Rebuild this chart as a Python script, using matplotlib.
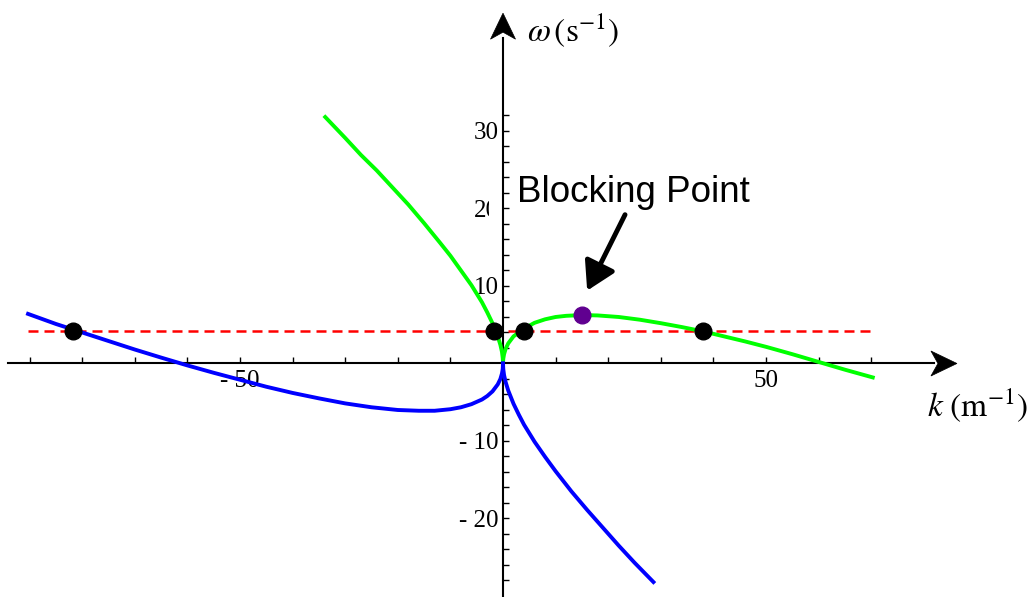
import matplotlib
matplotlib.use("Agg")
import matplotlib.pyplot as plt
from matplotlib.ticker import FixedLocator, FuncFormatter
from matplotlib.patches import Rectangle, Polygon

plt.rcParams['font.family'] = ['Liberation Serif', 'DejaVu Serif']
plt.rcParams['mathtext.fontset'] = 'stix'

# ---------------------------------------------------------------------
# Dispersion branches  omega(k)
# ---------------------------------------------------------------------
green_left_k = [-33.8, -30, -27, -24, -21, -18, -15, -12, -10, -8, -6, -5,
                -4, -3, -2, -1.5, -1, -0.5, -0.2, -0.05, 0]
green_left_w = [31.8, 29.1, 26.9, 24.9, 22.7, 20.5, 18.1, 15.6, 13.9, 12.0,
                10.1, 9.0, 7.9, 6.6, 5.2, 4.4, 3.5, 2.4, 1.5, 0.7, 0]

green_right_k = [0, 0.05, 0.2, 0.5, 1, 2, 3, 4, 6, 8, 10, 12, 15, 18, 22,
                 26, 30, 34, 38, 42, 46, 50, 55, 60, 65, 70.3]
green_right_w = [0, 0.6, 1.2, 1.9, 2.6, 3.5, 4.0, 4.5, 5.25, 5.7, 6.0, 6.15,
                 6.25, 6.2, 6.0, 5.65, 5.2, 4.7, 4.15, 3.5, 2.85, 2.15, 1.2,
                 0.2, -0.8, -1.8]

blue_left_k = [-90.3, -85, -80, -75, -70, -65, -60, -55, -50, -45, -40, -35,
               -30, -25, -20, -16, -13, -10, -8, -6, -4, -3, -2, -1, -0.5,
               -0.2, -0.05, 0]
blue_left_w = [6.4, 5.1, 4.0, 2.9, 1.8, 0.76, -0.25, -1.2, -2.1, -3.0, -3.8,
               -4.5, -5.15, -5.65, -6.0, -6.1, -6.1, -5.9, -5.65, -5.25,
               -4.65, -4.2, -3.6, -2.7, -2.0, -1.3, -0.7, 0]

blue_right_k = [0, 0.05, 0.2, 0.5, 1, 2, 3, 4, 6, 8, 10, 13, 16, 19, 22, 25,
                28.6]
blue_right_w = [0, -0.72, -1.5, -2.4, -3.5, -5.2, -6.6, -7.9, -10.1, -12.05,
                -13.9, -16.5, -18.9, -21.2, -23.5, -25.7, -28.2]

# wave frequency level and its intersections
omega0 = 4.2
omega0_k = [-90.3, 70.3]
cross_k = [-81.7, -1.7, 3.9, 38.0]
block_k, block_w = 15.1, 6.25

x_major = [-50, 50]
x_minor = [-90, -80, -70, -60, -40, -30, -20, -10, 10, 20, 30, 40, 60, 70]
y_major = [-20, -10, 10, 20, 30]
y_minor = [v for v in range(-28, 33, 2) if v % 10 != 0]

# ---------------------------------------------------------------------
W, H = 1034, 597
fig = plt.figure(figsize=(W / 100, H / 100), dpi=100)
ax = fig.add_axes([0, 0, 1, 1])
ax.set_xlim(-95.63, 100.95)
ax.set_ylim(-30.13, 46.9)
# pixels per data unit, used to size the arrow heads
px_x = W / (100.95 + 95.63)
px_y = H / (46.9 + 30.13)

for side in ('top', 'right'):
    ax.spines[side].set_visible(False)
for side in ('left', 'bottom'):
    ax.spines[side].set_position(('data', 0))
    ax.spines[side].set_linewidth(1.5)
ax.spines['bottom'].set_bounds(-94.1, 82)
ax.spines['left'].set_bounds(-30.13, 42)

ax.xaxis.set_major_locator(FixedLocator(x_major))
ax.xaxis.set_minor_locator(FixedLocator(x_minor))
ax.yaxis.set_major_locator(FixedLocator(y_major))
ax.yaxis.set_minor_locator(FixedLocator(y_minor))
fmt = FuncFormatter(lambda v, p: f'- {abs(int(v))}' if v < 0 else f'{int(v)}')
ax.xaxis.set_major_formatter(fmt)
ax.yaxis.set_major_formatter(fmt)
ax.tick_params(which='both', direction='in', length=4, width=1)
ax.tick_params(axis='x', which='major', pad=5, labelsize=18)
ax.tick_params(axis='y', which='major', pad=3, labelsize=18)


def notched_head(tip, direction, length=26, half=12.5, notch=7):
    """Arrow head with a notched back, sizes in pixels."""
    tx, ty = tip
    if direction == 'x':
        pts = [(0, 0), (-length, half), (-length + notch, 0), (-length, -half)]
        verts = [(tx + dx / px_x, ty + dy / px_y) for dx, dy in pts]
    else:
        pts = [(0, 0), (half, -length), (0, -length + notch), (-half, -length)]
        verts = [(tx + dx / px_x, ty + dy / px_y) for dx, dy in pts]
    ax.add_patch(Polygon(verts, closed=True, facecolor='black',
                         edgecolor='black', lw=0.5, zorder=3))


notched_head((86.3, 0), 'x')
notched_head((0, 45.2), 'y')

ax.text(4.6, 43.0, r'$\omega\,(\mathrm{s}^{-1})$', fontsize=24,
        ha='left', va='center')
ax.text(80.6, -5.35, r'$k\ (\mathrm{m}^{-1})$', fontsize=24,
        ha='left', va='center')

# white box over part of the "20" label
ax.add_patch(Rectangle((-2.7, 17.0), 2.5, 10.3, facecolor='white',
                       edgecolor='none', zorder=2))

ax.plot(omega0_k, [omega0, omega0], color='#FF0000', lw=1.8,
        dashes=(4, 2.4), zorder=3)
ax.plot(green_left_k, green_left_w, color='#00FF00', lw=2.8, zorder=3)
ax.plot(green_right_k, green_right_w, color='#00FF00', lw=2.8, zorder=3)
ax.plot(blue_left_k, blue_left_w, color='#0000FF', lw=2.8, zorder=3)
ax.plot(blue_right_k, blue_right_w, color='#0000FF', lw=2.8, zorder=3)

ax.plot(cross_k, [omega0] * len(cross_k), 'o', color='black', ms=12,
        zorder=5)
ax.plot([block_k], [block_w], 'o', color='#600090', ms=12, zorder=5)

ax.text(2.7, 20.9, 'Blocking Point', family='Liberation Sans', fontsize=26.5,
        ha='left', va='baseline')
ax.annotate('', xy=(16.0, 9.4), xytext=(23.2, 19.2),
            arrowprops=dict(arrowstyle='-|>,head_length=0.85,head_width=0.5',
                            color='black', lw=3.5, mutation_scale=20,
                            shrinkA=0, shrinkB=0))

fig.savefig('out.png', dpi=100, facecolor='white')
